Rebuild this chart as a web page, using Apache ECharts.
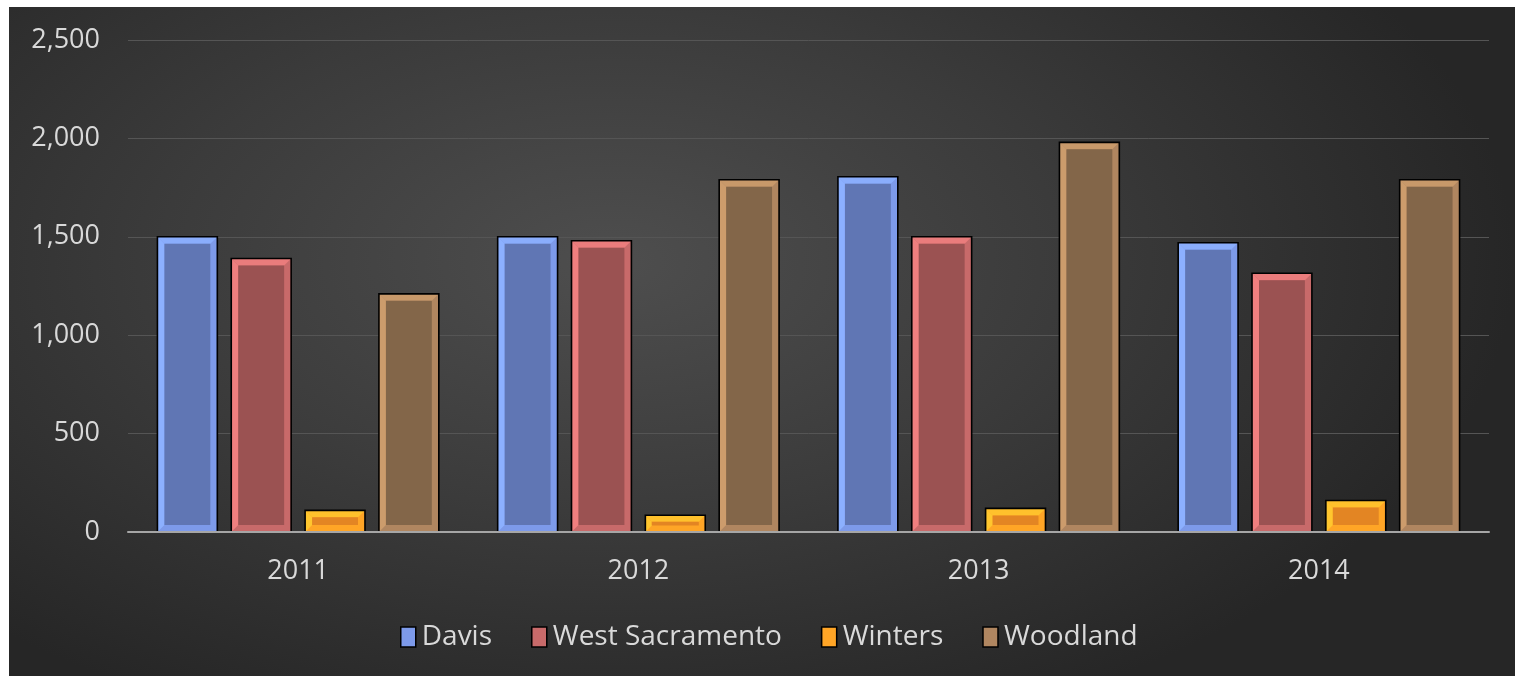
<!DOCTYPE html>
<html>
<head>
<meta charset="utf-8">
<script src="https://cdn.jsdelivr.net/npm/echarts@6/dist/echarts.min.js"></script>
<style>
  html, body { margin:0; padding:0; background:#ffffff; width:1515px; height:676px; overflow:hidden; }
  #chart { position:absolute; left:9px; top:7px; width:1506px; height:669px;
    background: radial-gradient(ellipse 60% 75% at 40% 38%, #4e4e4e 0%, #3b3b3b 50%, #262626 100%); }
</style>
</head>
<body>
<div id="chart"></div>
<script>
const categories = ['2011', '2012', '2013', '2014'];
const davis = [1500, 1500, 1805, 1470];
const westSacramento = [1390, 1480, 1500, 1315];
const winters = [110, 85, 120, 160];
const woodland = [1210, 1790, 1980, 1790];
const yTicks = [0, 500, 1000, 1500, 2000, 2500];

const seriesNames = ['Davis', 'West Sacramento', 'Winters', 'Woodland'];
const seriesData = [davis, westSacramento, winters, woodland];
const fills = ['#6076b4', '#9b5252', '#e38523', '#836649'];
const edges = ['#7d9aea', '#c86a6a', '#ffa526', '#b08660'];
const lights = ['#8cb0ff', '#f07f7f', '#ffc62e', '#cc9c6c'];

const chart = echarts.init(document.getElementById('chart'), null, { renderer: 'canvas' });
const font = '"Open Sans", "Noto Sans", sans-serif';

// bar geometry as fractions of the category band
const BAR_FRAC = 0.176;   // bar width / band
const STEP_FRAC = 0.217;  // center spacing / band
const BEVEL = 7;

function makeRender(i) {
  return function (params, api) {
    const xi = api.value(0), v = api.value(1);
    const base = api.coord([xi, 0]);
    const top = api.coord([xi, v]);
    const band = api.size([1, 0])[0];
    const w = band * BAR_FRAC;
    const cx = base[0] + (i - 1.5) * band * STEP_FRAC;
    const x0 = cx - w / 2, x1 = cx + w / 2, y0 = top[1], y1 = base[1];
    const b = Math.min(BEVEL, (y1 - y0) / 2.6);
    return {
      type: 'group',
      children: [
        { type: 'rect', shape: { x: x0, y: y0, width: w, height: y1 - y0 },
          style: { fill: edges[i] } },
        { type: 'polygon', shape: { points: [[x0, y0], [x0 + b, y0 + b], [x0 + b, y1 - b], [x0, y1]] },
          style: { fill: lights[i] } },
        { type: 'polygon', shape: { points: [[x0, y0], [x1, y0], [x1 - b, y0 + b], [x0 + b, y0 + b]] },
          style: { fill: lights[i], opacity: 0.85 } },
        { type: 'rect', shape: { x: x0 + b, y: y0 + b, width: w - 2 * b, height: Math.max(0, y1 - y0 - 2 * b) },
          style: { fill: fills[i] } },
        { type: 'rect', shape: { x: x0, y: y0, width: w, height: y1 - y0 },
          style: { fill: null, stroke: '#000000', lineWidth: 1.6 } }
      ]
    };
  };
}

chart.setOption({
  backgroundColor: 'transparent',
  animation: false,
  grid: { left: 119, right: 26, top: 33, bottom: 144, containLabel: false },
  legend: {
    data: seriesNames.map((n, i) => ({ name: n, itemStyle: { color: edges[i], borderColor: '#000', borderWidth: 1.5 } })),
    bottom: 20,
    left: 386,
    icon: 'rect',
    itemWidth: 15,
    itemHeight: 20,
    itemGap: 39,
    textStyle: { color: '#d9d9d9', fontSize: 28, fontFamily: font, padding: [0, 0, 0, 1] }
  },
  xAxis: {
    type: 'category',
    data: categories,
    z: 5,
    axisLine: { show: true, lineStyle: { color: '#a6a6a6', width: 2 } },
    axisTick: { show: false },
    axisLabel: { color: '#d9d9d9', fontSize: 27, fontFamily: font, margin: 26 },
    splitLine: { show: false }
  },
  yAxis: {
    type: 'value',
    min: yTicks[0],
    max: yTicks[yTicks.length - 1],
    interval: yTicks[1] - yTicks[0],
    axisLine: { show: false },
    axisTick: { show: false },
    axisLabel: {
      color: '#d9d9d9', fontSize: 27, fontFamily: font, margin: 28,
      formatter: v => v.toLocaleString('en-US')
    },
    splitLine: { lineStyle: { color: '#555555', width: 1 } }
  },
  series: seriesNames.map((n, i) => ({
    name: n,
    type: 'custom',
    coordinateSystem: 'cartesian2d',
    encode: { x: 0, y: 1 },
    itemStyle: { color: edges[i] },
    data: seriesData[i].map((v, j) => [j, v]),
    renderItem: makeRender(i)
  }))
});
</script>
</body>
</html>
